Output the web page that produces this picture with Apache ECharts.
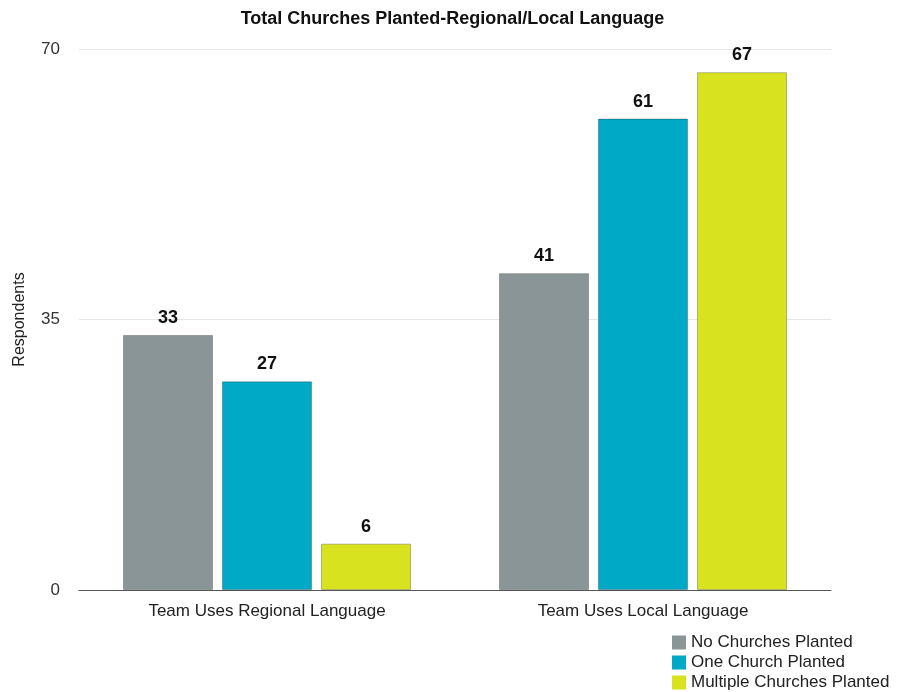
<!DOCTYPE html>
<html>
<head>
<meta charset="utf-8">
<script src="https://cdn.jsdelivr.net/npm/echarts@6/dist/echarts.min.js"></script>
<style>
  html, body { margin: 0; padding: 0; background: #fff; }
  #chart { width: 905px; height: 692px; }
</style>
</head>
<body>
<div id="chart"></div>
<script>
const categories = ['Team Uses Regional Language', 'Team Uses Local Language']
const seriesNames = ['No Churches Planted', 'One Church Planted', 'Multiple Churches Planted']
const noChurches = [33, 41]
const oneChurch = [27, 61]
const multipleChurches = [6, 67]
const colors = ['#8a9597', '#00a9c5', '#d9e21f']

const chart = echarts.init(document.getElementById('chart'))
const font = '"Liberation Sans", Arial, sans-serif'

const makeSeries = (name, data, color) => ({
  name,
  type: 'bar',
  data,
  barWidth: 90,
  barGap: '10%',
  itemStyle: { color, borderColor: 'rgba(0,0,0,0.25)', borderWidth: 1 },
  label: {
    show: true,
    position: 'top',
    distance: 8,
    color: '#111',
    fontFamily: font,
    fontWeight: 'bold',
    fontSize: 18
  }
})

chart.setOption({
  animation: false,
  textStyle: { fontFamily: font },
  title: {
    text: 'Total Churches Planted-Regional/Local Language',
    left: 'center',
    top: 5,
    textStyle: { fontFamily: font, fontWeight: 'bold', fontSize: 18, color: '#111' }
  },
  legend: {
    orient: 'vertical',
    left: 667,
    bottom: -4,
    itemWidth: 14,
    itemHeight: 14,
    itemGap: 3,
    icon: 'rect',
    itemStyle: { borderWidth: 0 },
    textStyle: { fontFamily: font, fontSize: 17, color: '#222' },
    data: seriesNames
  },
  grid: { left: 79, right: 74, top: 49, bottom: 102, containLabel: false },
  xAxis: {
    type: 'category',
    data: categories,
    axisTick: { show: false },
    axisLine: { lineStyle: { color: '#555', width: 1 } },
    axisLabel: { color: '#222', fontSize: 17, margin: 13, fontFamily: font }
  },
  yAxis: {
    type: 'value',
    min: 0,
    max: 70,
    interval: 35,
    name: 'Respondents',
    nameLocation: 'middle',
    nameGap: 51,
    nameTextStyle: { color: '#222', fontSize: 16, fontFamily: font },
    axisLabel: { color: '#333', fontSize: 17, margin: 19, fontFamily: font },
    splitLine: { lineStyle: { color: '#e6e6e6' } }
  },
  series: [
    makeSeries(seriesNames[0], noChurches, colors[0]),
    makeSeries(seriesNames[1], oneChurch, colors[1]),
    makeSeries(seriesNames[2], multipleChurches, colors[2])
  ]
})
</script>
</body>
</html>
